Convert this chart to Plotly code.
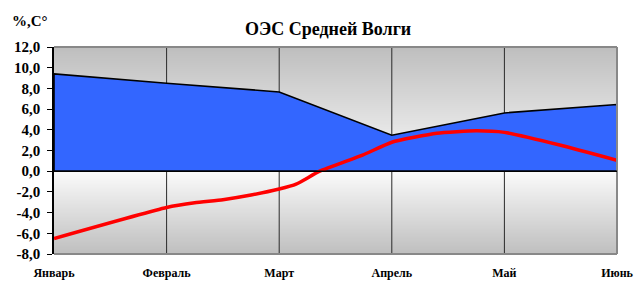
import plotly.graph_objects as go

months = ["Январь", "Февраль", "Март", "Апрель", "Май", "Июнь"]
month_pos = [0, 1, 2, 3, 4, 5]
area_values = [9.4, 8.5, 7.66, 3.48, 5.63, 6.44]

red_x = [0, 1, 1.25, 1.5, 1.75, 2, 2.15, 2.36, 2.74, 3, 3.4, 3.75, 4, 4.5, 5]
red_y = [-6.5, -3.5, -3.05, -2.75, -2.3, -1.72, -1.25, 0.0, 1.55, 2.8, 3.67, 3.9, 3.75, 2.5, 1.05]

y_ticks = [-8, -6, -4, -2, 0, 2, 4, 6, 8, 10, 12]
y_ticktext = [f"{v:.1f}".replace(".", ",") for v in y_ticks]

YMIN, YMAX = -8, 12
XMIN, XMAX = 0, 5

FONT = "Liberation Serif"
W, H = 635, 285
L, R, T, B = 54, 18, 47, 31
PW, PH = W - L - R, H - T - B

fig = go.Figure()

# background gradient (gray -> white at zero -> gray)
gy = [YMIN - 0.5 + i * 0.1 for i in range(int((YMAX - YMIN + 1) / 0.1) + 1)]
gz = [[(y / YMAX if y > 0 else -y / -YMIN)] * 2 for y in gy]
fig.add_trace(go.Heatmap(
    x=[XMIN - 0.5, XMAX + 0.5], y=gy, z=gz,
    colorscale=[[0, "#fafafa"], [1, "#bebebe"]],
    zmin=0, zmax=1, zsmooth="best", showscale=False, hoverinfo="skip"))

# vertical gridlines
gx, gyl = [], []
for p in month_pos[1:-1]:
    gx += [p, p, None]
    gyl += [YMIN, YMAX, None]
fig.add_trace(go.Scatter(x=gx, y=gyl, mode="lines",
                         line=dict(color="#2a2a2a", width=1), hoverinfo="skip",
                         showlegend=False))

# blue area (closed polygon to zero)
ax = [month_pos[0]] + month_pos + [month_pos[-1], month_pos[0]]
ay = [0] + area_values + [0, 0]
fig.add_trace(go.Scatter(x=ax, y=ay, mode="lines", fill="toself",
                         fillcolor="#3366FF", line=dict(color="black", width=1.6),
                         showlegend=False))

# red line
fig.add_trace(go.Scatter(x=red_x, y=red_y, mode="lines",
                         line=dict(color="#FF0000", width=3.5, shape="spline", smoothing=0.5),
                         showlegend=False))

fig.update_layout(
    width=W, height=H,
    margin=dict(l=L, r=R, t=T, b=B, autoexpand=False),
    paper_bgcolor="white", plot_bgcolor="white",
    showlegend=False,
    xaxis=dict(range=[XMIN, XMAX], tickvals=month_pos, ticktext=months,
               showgrid=False, zeroline=False, showline=False, automargin=False,
               ticks="outside", ticklen=8, tickcolor="rgba(0,0,0,0)",
               ticklabeloverflow="allow",
               tickfont=dict(family=FONT, size=12, color="black", weight="bold")),
    yaxis=dict(range=[YMIN, YMAX], tickvals=y_ticks, ticktext=y_ticktext,
               showgrid=False, zeroline=False, showline=True, linecolor="black",
               linewidth=1.5, ticks="outside", ticklen=5, tickcolor="black",
               tickwidth=1.2, automargin=False, ticklabelstandoff=4,
               tickfont=dict(family=FONT, size=15, color="black", weight="bold")),
    shapes=[
        dict(type="line", xref="paper", yref="paper", x0=0, x1=1, y0=1, y1=1,
             line=dict(color="#888888", width=2)),
        dict(type="line", xref="paper", yref="paper", x0=1, x1=1, y0=0, y1=1,
             line=dict(color="#888888", width=2)),
        dict(type="line", xref="paper", yref="paper", x0=0, x1=1, y0=0, y1=0,
             line=dict(color="#888888", width=2)),
        dict(type="line", xref="x", yref="y", x0=XMIN, x1=XMAX, y0=0, y1=0,
             line=dict(color="black", width=1.6)),
    ],
    annotations=[
        dict(text="ОЭС Средней Волги", xref="paper", yref="paper",
             x=(328 - L) / PW, y=1, yshift=6, xanchor="center", yanchor="bottom",
             showarrow=False,
             font=dict(family=FONT, size=18, color="black", weight="bold")),
        dict(text="%,С°", xref="paper", yref="paper", x=(10 - L) / PW,
             y=1 + 26 / PH, xanchor="left", yanchor="middle", showarrow=False,
             font=dict(family=FONT, size=15, color="black", weight="bold")),
    ],
)

fig.write_html(
    "out.html",
    config={"displayModeBar": False},
    post_script="document.body.style.margin='0';document.body.style.overflow='hidden';",
)
